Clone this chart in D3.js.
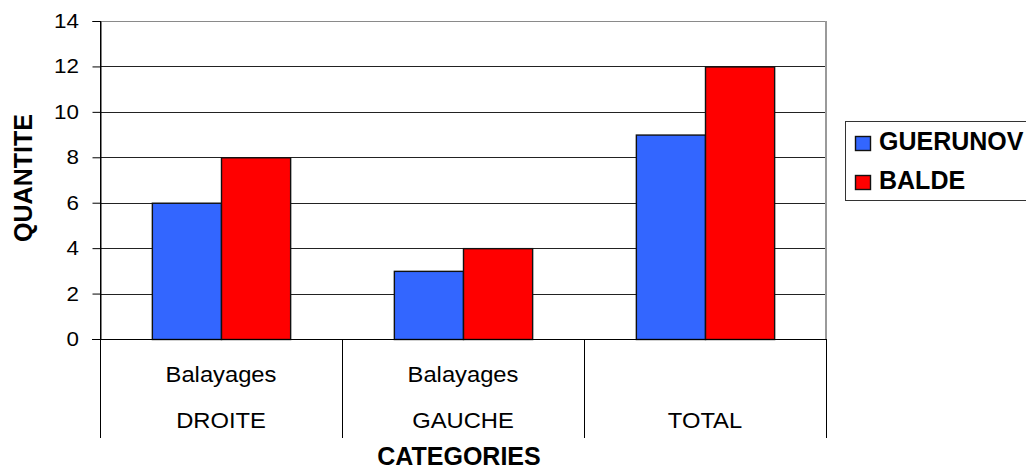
<!DOCTYPE html>
<html><head><meta charset="utf-8">
<script src="https://cdn.jsdelivr.net/npm/d3@7"></script>
<style>body{margin:0;background:#fff}svg{display:block}text{font-family:"Liberation Sans",Arial,sans-serif;fill:#000}</style>
</head><body><svg id="c" width="1026" height="472"></svg>
<script>
const categories = ["DROITE","GAUCHE","TOTAL"];
const subLabels = ["Balayages","Balayages",""];
const seriesNames = ["GUERUNOV","BALDE"];
const guerunov = [6,3,9];
const balde = [8,4,12];
const yTicks = [0,2,4,6,8,10,12,14];
const colors = ["#3366FF","#FF0000"];

const svg = d3.select("#c");
const L=100, R=826, T=21, B=339;
const x = d3.scaleBand().domain(categories).range([L,R]).paddingInner(0).paddingOuter(0);
const y = d3.scaleLinear().domain([0,14]).range([B,T]);
const xs = d3.scaleBand().domain(seriesNames).range([0,x.bandwidth()]).paddingInner(0).paddingOuter(0.75);

// gridlines
svg.append("g").selectAll("line").data(yTicks.filter(d=>d>0)).join("line")
  .attr("x1",L).attr("x2",R).attr("y1",d=>Math.round(y(d))+0.5).attr("y2",d=>Math.round(y(d))+0.5)
  .attr("stroke",d=>d===14?"#8a8a8a":"#222").attr("stroke-width",1);
// right border
svg.append("line").attr("x1",R).attr("x2",R).attr("y1",T).attr("y2",B).attr("stroke","#9a9a9a").attr("stroke-width",2);

// y axis (ticks + line)
const ya = svg.append("g").attr("transform",`translate(${L+0.5},0)`)
  .call(d3.axisLeft(y).tickValues(yTicks).tickSize(8).tickFormat(""));
ya.select(".domain").attr("stroke","#000");
ya.selectAll(".tick line").attr("stroke","#000");
// y tick labels (slightly stretched like the reference)
svg.append("g").selectAll("text").data(yTicks).join("text")
  .attr("transform",d=>`translate(79,${y(d)+7}) scale(1.12,1)`)
  .attr("text-anchor","end").attr("font-size",20).text(d=>d);

// bars
const data = categories.map((c,i)=>({c, vals:[guerunov[i],balde[i]]}));
const g = svg.append("g");
data.forEach(d=>{
  d.vals.forEach((v,j)=>{
    g.append("rect")
      .attr("x",x(d.c)+xs(seriesNames[j])+0.5)
      .attr("y",y(v)+0.5)
      .attr("width",xs.bandwidth())
      .attr("height",B-y(v))
      .attr("fill",colors[j]).attr("stroke","#111").attr("stroke-width",1.4);
  });
});

// baseline and left axis line
svg.append("line").attr("x1",L-8).attr("x2",R).attr("y1",B+0.5).attr("y2",B+0.5).attr("stroke","#000");
svg.append("line").attr("x1",L+0.5).attr("x2",L+0.5).attr("y1",T).attr("y2",B).attr("stroke","#000");

// category separators
const seps = [L, ...categories.map(c=>x(c)+x.bandwidth())];
svg.append("g").selectAll("line").data(seps).join("line")
  .attr("x1",d=>d+0.5).attr("x2",d=>d+0.5).attr("y1",B).attr("y2",438).attr("stroke","#000");

// category labels
svg.append("g").selectAll("text").data(categories).join("text")
  .attr("transform",d=>`translate(${x(d)+x.bandwidth()/2},428) scale(1.08,1)`)
  .attr("text-anchor","middle").attr("font-size",22).text(d=>d);
svg.append("g").selectAll("text").data(categories).join("text")
  .attr("transform",d=>`translate(${x(d)+x.bandwidth()/2},382) scale(1.08,1)`)
  .attr("text-anchor","middle").attr("font-size",22).text((d,i)=>subLabels[i]);

// axis titles
svg.append("text").attr("x",459).attr("y",465).attr("text-anchor","middle")
  .attr("font-size",25).attr("font-weight","bold").text("CATEGORIES");
svg.append("text").attr("transform","translate(32,178) rotate(-90)").attr("text-anchor","middle")
  .attr("font-size",25).attr("font-weight","bold").text("QUANTITE");

// legend
svg.append("rect").attr("x",845.5).attr("y",121.5).attr("width",200).attr("height",79)
  .attr("fill","#fff").attr("stroke","#333").attr("stroke-width",1);
const lg = svg.append("g").selectAll("g").data(seriesNames).join("g")
  .attr("transform",(d,i)=>`translate(855,${136+i*39})`);
lg.append("rect").attr("x",0.5).attr("y",0.5).attr("width",15).attr("height",14)
  .attr("fill",(d,i)=>colors[i]).attr("stroke","#111").attr("stroke-width",1.4);
lg.append("text").attr("x",24).attr("y",14).attr("font-size",25).attr("font-weight","bold").text(d=>d);
</script></body></html>
